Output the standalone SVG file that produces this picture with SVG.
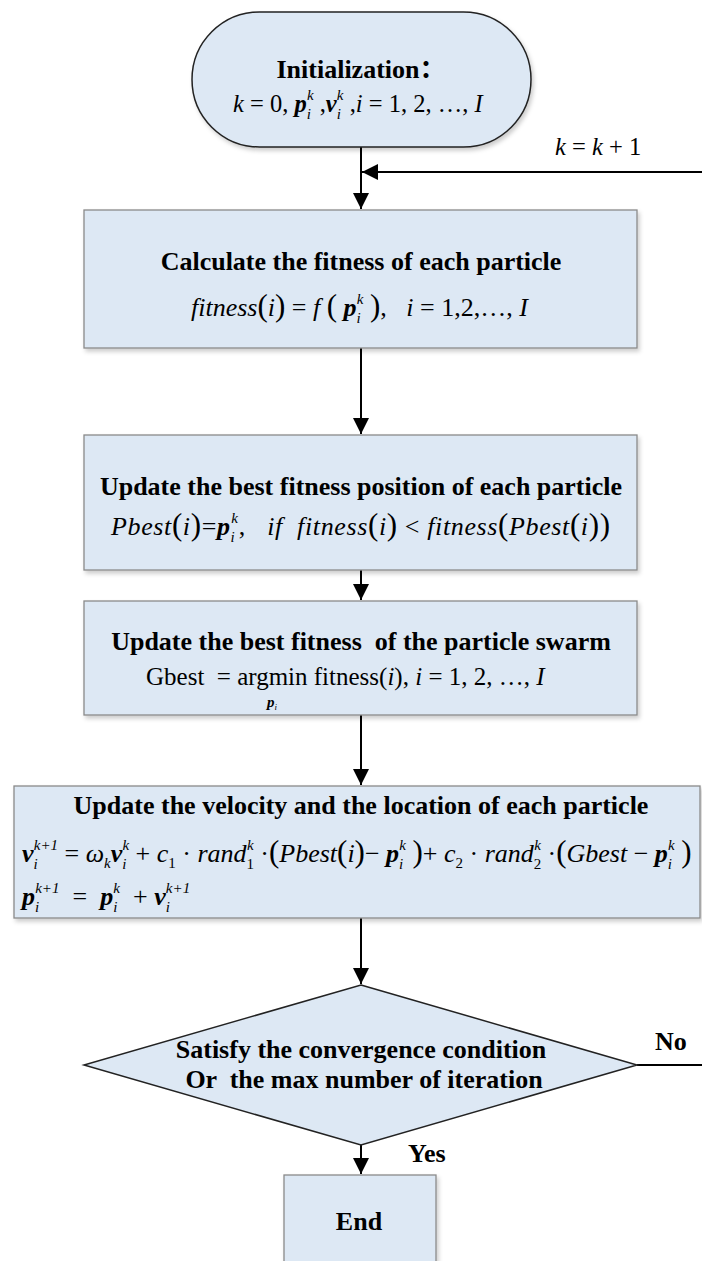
<svg xmlns="http://www.w3.org/2000/svg" width="702" height="1261" viewBox="0 0 702 1261">
<style>
.box{fill:#dde8f4;stroke:#8a8a8a;stroke-width:1.3}
.term{fill:#dde8f4;stroke:#222;stroke-width:1.5}
.dia{fill:#dde8f4;stroke:#222;stroke-width:1.5}
.title{font-family:"Liberation Serif","Times New Roman","Noto Sans CJK SC",serif;font-weight:bold;font-size:26px;fill:#000}
.m{font-family:"Liberation Serif","Times New Roman",serif;font-size:26px;fill:#000}
.m25{font-size:24.5px}
.m15{font-size:15px}
.i{font-style:italic}
.b{font-weight:bold;font-style:italic}
.s{font-size:15px}
.t{font-size:9px}
.p{font-size:31px}
.conn{stroke:#000;stroke-width:2;fill:none}
</style>
<defs>
<marker id="ah" markerUnits="userSpaceOnUse" markerWidth="16" markerHeight="18" viewBox="0 0 16 18" refX="16" refY="8" orient="auto">
<path d="M0,0 L16,8 L0,16 Z" fill="#000"/>
</marker>
<filter id="sh" x="-5%" y="-5%" width="110%" height="115%">
<feDropShadow dx="2" dy="3" stdDeviation="2" flood-color="#000" flood-opacity="0.2"/>
</filter>
</defs>

<g id="connectors">
<path class="conn" d="M361,147 V209" marker-end="url(#ah)"/>
<path class="conn" d="M361,348 V434" marker-end="url(#ah)"/>
<path class="conn" d="M361,570 V600" marker-end="url(#ah)"/>
<path class="conn" d="M361,715 V785" marker-end="url(#ah)"/>
<path class="conn" d="M361,918 V984" marker-end="url(#ah)"/>
<path class="conn" d="M361,1145 V1174" marker-end="url(#ah)"/>
<path class="conn" d="M637,1065 H706 V172 H362" marker-end="url(#ah)"/>
</g>

<g id="init">
<rect class="term" x="192" y="12" width="339" height="135" rx="67.5" filter="url(#sh)"/>
<text class="title" x="361" y="78" text-anchor="middle">Initialization：</text>
<text class="m m25" x="233" y="112" xml:space="preserve"><tspan class="i">k</tspan> = 0, <tspan class="b">p</tspan><tspan class="s i" dy="7">i</tspan><tspan class="s i" dx="-4" dy="-19">k</tspan><tspan dy="12"> ,</tspan><tspan class="b">v</tspan><tspan class="s i" dy="7">i</tspan><tspan class="s i" dx="-4" dy="-19">k</tspan><tspan dy="12"> ,</tspan><tspan class="i">i</tspan> = 1, 2, …, <tspan class="i">I</tspan></text>
</g>

<g id="label-k">
<text class="m m25" x="555" y="155" xml:space="preserve"><tspan class="i">k</tspan> = <tspan class="i">k</tspan> + 1</text>
</g>

<g id="fitness">
<rect class="box" x="84" y="210" width="553" height="138" filter="url(#sh)"/>
<text class="title" x="361" y="270" text-anchor="middle">Calculate the fitness of each particle</text>
<text class="m" x="191" y="316" xml:space="preserve"><tspan class="i">fitness</tspan><tspan class="p">(</tspan><tspan class="i">i</tspan><tspan class="p">)</tspan> = <tspan class="i">f</tspan> <tspan class="p">(</tspan> <tspan class="b">p</tspan><tspan class="s i" dy="7">i</tspan><tspan class="s i" dx="-4" dy="-19">k</tspan><tspan dy="12"> </tspan><tspan class="p">)</tspan>,   <tspan class="i">i</tspan> = 1,2,…, <tspan class="i">I</tspan></text>
</g>

<g id="pbest">
<rect class="box" x="84" y="435" width="553" height="135" filter="url(#sh)"/>
<text class="title" x="361" y="495" text-anchor="middle">Update the best fitness position of each particle</text>
<text class="m" x="111" y="535" textLength="499" lengthAdjust="spacing" xml:space="preserve"><tspan class="i">Pbest</tspan><tspan class="p">(</tspan><tspan class="i">i</tspan><tspan class="p">)</tspan>=<tspan class="b">p</tspan><tspan class="s i" dy="7">i</tspan><tspan class="s i" dx="-4" dy="-19">k</tspan><tspan dy="12">,   </tspan><tspan class="i">if  fitness</tspan><tspan class="p">(</tspan><tspan class="i">i</tspan><tspan class="p">)</tspan> &lt; <tspan class="i">fitness</tspan><tspan class="p">(</tspan><tspan class="i">Pbest</tspan><tspan class="p">(</tspan><tspan class="i">i</tspan><tspan class="p">))</tspan></text>
</g>

<g id="gbest">
<rect class="box" x="84" y="601" width="553" height="114" filter="url(#sh)"/>
<text class="title" x="361" y="650" text-anchor="middle" xml:space="preserve">Update the best fitness  of the particle swarm</text>
<text class="m" x="146" y="685" style="font-size:25px" xml:space="preserve">Gbest  = argmin fitness(<tspan class="i">i</tspan>), <tspan class="i">i</tspan> = 1, 2, …, <tspan class="i">I</tspan></text>
<text class="m m15" x="272" y="707" text-anchor="middle"><tspan class="b">p</tspan><tspan class="i t" dy="3">i</tspan></text>
</g>

<g id="update">
<rect class="box" x="14" y="786" width="686" height="132" filter="url(#sh)"/>
<text class="title" x="361" y="814" text-anchor="middle">Update the velocity and the location of each particle</text>
<text class="m" x="22" y="862" xml:space="preserve"><tspan class="b">v</tspan><tspan class="s i" dy="7">i</tspan><tspan class="s i" dx="-4" dy="-19">k+1</tspan><tspan dy="12"> = </tspan><tspan class="i">ω</tspan><tspan class="s i" dy="6">k</tspan><tspan class="b" dy="-6">v</tspan><tspan class="s i" dy="7">i</tspan><tspan class="s i" dx="-4" dy="-19">k</tspan><tspan dy="12"> + </tspan><tspan class="i">c</tspan><tspan class="s" dy="6">1</tspan><tspan dy="-6"> · </tspan><tspan class="i">rand</tspan><tspan class="s" dy="7">1</tspan><tspan class="s i" dx="-7" dy="-19">k</tspan><tspan dy="12"> ·</tspan><tspan class="p">(</tspan><tspan class="i">Pbest</tspan><tspan class="p">(</tspan><tspan class="i">i</tspan><tspan class="p">)</tspan>− <tspan class="b">p</tspan><tspan class="s i" dy="7">i</tspan><tspan class="s i" dx="-4" dy="-19">k</tspan><tspan dy="12"> </tspan><tspan class="p">)</tspan>+ <tspan class="i">c</tspan><tspan class="s" dy="6">2</tspan><tspan dy="-6"> · </tspan><tspan class="i">rand</tspan><tspan class="s" dy="7">2</tspan><tspan class="s i" dx="-7" dy="-19">k</tspan><tspan dy="12"> ·</tspan><tspan class="p">(</tspan><tspan class="i">Gbest</tspan> − <tspan class="b">p</tspan><tspan class="s i" dy="7">i</tspan><tspan class="s i" dx="-4" dy="-19">k</tspan><tspan dy="12"> </tspan><tspan class="p">)</tspan></text>
<text class="m" x="22" y="905" xml:space="preserve"><tspan class="b">p</tspan><tspan class="s i" dy="7">i</tspan><tspan class="s i" dx="-4" dy="-19">k+1</tspan><tspan dy="12">  =  </tspan><tspan class="b">p</tspan><tspan class="s i" dy="7">i</tspan><tspan class="s i" dx="-4" dy="-19">k</tspan><tspan dy="12">  + </tspan><tspan class="b">v</tspan><tspan class="s i" dy="7">i</tspan><tspan class="s i" dx="-4" dy="-19">k+1</tspan></text>
</g>

<g id="decision">
<polygon class="dia" points="361,985 637,1065 361,1145 84,1065"/>
<text class="title" x="361" y="1058" text-anchor="middle">Satisfy the convergence condition</text>
<text class="title" x="364" y="1088" text-anchor="middle" xml:space="preserve">Or  the max number of iteration</text>
</g>

<g id="labels">
<text class="title" x="655" y="1050">No</text>
<text class="title" x="408" y="1162">Yes</text>
</g>

<g id="end">
<rect class="box" x="284" y="1175" width="152" height="100" filter="url(#sh)"/>
<text class="title" x="359" y="1230" text-anchor="middle">End</text>
</g>
</svg>
